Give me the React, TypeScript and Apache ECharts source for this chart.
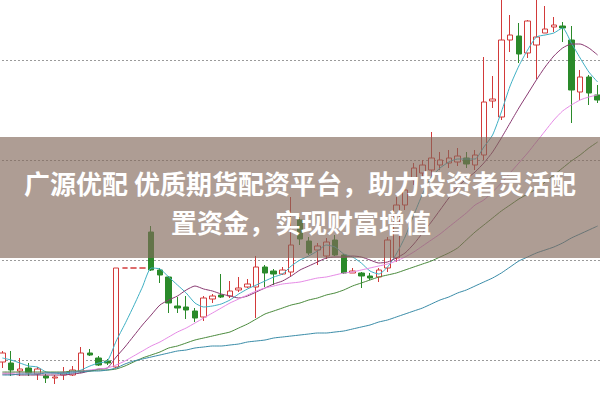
import React, { useEffect, useRef } from "react";
import * as echarts from "echarts";

// Candle values (price units), one entry per trading day
const OPEN = [5.98, 5.97, 5.89, 5.92, 5.86, 5.84, 5.82, 5.85, 5.85, 5.88, 6.07, 6.02, 5.99, 5.93, 6.92, 6.92, 6.92, 7.28, 6.9, 6.83, 6.54, 6.53, 6.49, 6.43, 6.61, 6.65, 6.64, 6.7, 6.73, 6.73, 6.93, 6.89, 6.86, 6.88, 7.4, 7.19, 7.1, 7.04, 7.2, 7.05, 6.87, 6.87, 6.84, 6.83, 6.92, 7.02, 7.55, 7.8, 7.87, 7.9, 7.95, 7.97, 7.98, 8.02, 7.95, 8.05, 8.59, 8.43, 9.2, 9.24, 9.07, 9.15, 9.27, 9.33, 9.34, 9.2, 8.68, 8.83, 8.65];
const CLOSE = [6.07, 5.9, 5.91, 5.87, 5.91, 5.82, 5.83, 5.87, 5.9, 6.07, 6.05, 5.95, 5.97, 6.92, 6.92, 6.92, 6.92, 6.9, 6.85, 6.57, 6.52, 6.5, 6.42, 6.62, 6.64, 6.63, 6.69, 6.72, 6.76, 6.93, 6.87, 6.86, 6.9, 7.15, 7.21, 7.07, 7.14, 7.18, 7.05, 6.87, 6.89, 6.84, 6.82, 6.9, 7.2, 7.55, 7.7, 7.92, 7.95, 8.02, 8.0, 8.02, 8.04, 7.96, 8.05, 8.58, 8.61, 9.2, 9.25, 9.06, 9.39, 9.23, 9.31, 9.35, 9.32, 8.7, 8.83, 8.67, 8.6];
const LOW = [5.92, 5.84, 5.84, 5.84, 5.8, 5.77, 5.76, 5.8, 5.84, 5.87, 6.04, 5.94, 5.95, 5.92, 6.92, 6.92, 6.92, 6.89, 6.77, 6.47, 6.47, 6.41, 6.38, 6.39, 6.57, 6.62, 6.62, 6.68, 6.72, 6.42, 6.73, 6.75, 6.85, 6.84, 7.15, 7.05, 6.95, 7.01, 7.04, 6.86, 6.87, 6.72, 6.8, 6.78, 6.88, 6.98, 7.5, 7.75, 7.82, 7.78, 7.9, 7.92, 7.94, 7.92, 7.9, 8.0, 8.52, 8.4, 9.08, 8.97, 9.02, 8.81, 9.27, 9.28, 9.18, 8.37, 8.6, 8.55, 8.57];
const HIGH = [6.09, 6.09, 6.02, 5.97, 5.93, 5.86, 5.85, 5.93, 5.94, 6.13, 6.11, 6.04, 6.01, 6.92, 6.92, 6.92, 6.92, 7.34, 6.92, 6.84, 6.63, 6.64, 6.52, 6.64, 6.66, 6.86, 6.79, 6.83, 6.81, 7.04, 6.95, 6.91, 6.93, 7.63, 7.43, 7.23, 7.17, 7.22, 7.25, 7.06, 6.92, 6.88, 6.87, 6.92, 7.23, 7.63, 7.75, 7.97, 8.0, 8.28, 8.08, 8.1, 8.12, 8.08, 8.1, 9.03, 8.84, 9.65, 9.45, 9.37, 9.4, 9.65, 9.54, 9.43, 9.38, 9.34, 8.9, 8.85, 8.75];

// Moving averages
const MA5 = [6.02, 6.0, 5.97, 5.94, 5.93, 5.88, 5.87, 5.86, 5.87, 5.9, 5.94, 5.97, 5.99, 6.19, 6.36, 6.54, 6.73, 6.92, 6.91, 6.83, 6.75, 6.67, 6.57, 6.53, 6.54, 6.56, 6.6, 6.66, 6.71, 6.75, 6.79, 6.83, 6.86, 6.94, 7.0, 7.04, 7.09, 7.15, 7.13, 7.06, 7.03, 6.97, 6.89, 6.86, 6.93, 7.06, 7.23, 7.45, 7.66, 7.83, 7.92, 7.98, 8.01, 8.01, 8.01, 8.13, 8.25, 8.48, 8.74, 8.94, 9.1, 9.23, 9.25, 9.27, 9.32, 9.17, 9.02, 8.88, 8.78];
const MA10 = [5.86, 5.86, 5.85, 5.85, 5.85, 5.85, 5.85, 5.85, 5.86, 5.87, 5.89, 5.91, 5.92, 6.03, 6.13, 6.24, 6.35, 6.45, 6.55, 6.6, 6.64, 6.7, 6.74, 6.71, 6.69, 6.66, 6.64, 6.62, 6.64, 6.68, 6.72, 6.76, 6.79, 6.84, 6.9, 6.94, 6.98, 7.02, 7.03, 7.03, 7.04, 7.03, 7.0, 6.97, 6.98, 7.02, 7.07, 7.16, 7.27, 7.38, 7.5, 7.62, 7.73, 7.81, 7.88, 7.97, 8.08, 8.22, 8.37, 8.52, 8.66, 8.8, 8.93, 9.04, 9.12, 9.16, 9.16, 9.12, 9.05];
const MA20 = [5.87, 5.87, 5.87, 5.87, 5.87, 5.87, 5.87, 5.88, 5.88, 5.89, 5.9, 5.91, 5.92, 5.95, 5.99, 6.04, 6.09, 6.14, 6.18, 6.23, 6.28, 6.32, 6.37, 6.42, 6.47, 6.52, 6.57, 6.61, 6.65, 6.69, 6.72, 6.74, 6.76, 6.77, 6.78, 6.8, 6.82, 6.83, 6.85, 6.87, 6.88, 6.9, 6.92, 6.94, 6.96, 6.99, 7.03, 7.08, 7.14, 7.2, 7.26, 7.33, 7.4, 7.47, 7.55, 7.6, 7.68, 7.77, 7.87, 7.97, 8.07, 8.18, 8.29, 8.4, 8.49, 8.55, 8.6, 8.63, 8.65];
const MA30 = [5.88, 5.88, 5.88, 5.88, 5.88, 5.88, 5.88, 5.88, 5.89, 5.89, 5.89, 5.9, 5.9, 5.91, 5.94, 5.98, 6.02, 6.05, 6.08, 6.12, 6.14, 6.17, 6.2, 6.22, 6.24, 6.26, 6.28, 6.32, 6.36, 6.41, 6.46, 6.49, 6.52, 6.55, 6.57, 6.6, 6.62, 6.65, 6.67, 6.7, 6.74, 6.77, 6.8, 6.83, 6.85, 6.87, 6.9, 6.93, 6.96, 6.99, 7.03, 7.07, 7.12, 7.2, 7.28, 7.35, 7.42, 7.49, 7.55, 7.61, 7.66, 7.71, 7.78, 7.85, 7.92, 7.99, 8.05, 8.12, 8.18];
const MA60 = [5.85, 5.85, 5.86, 5.86, 5.86, 5.87, 5.87, 5.87, 5.88, 5.88, 5.89, 5.89, 5.9, 5.92, 5.96, 5.99, 6.01, 6.03, 6.05, 6.07, 6.09, 6.1, 6.12, 6.13, 6.14, 6.14, 6.15, 6.16, 6.18, 6.19, 6.2, 6.22, 6.23, 6.24, 6.25, 6.26, 6.27, 6.27, 6.28, 6.29, 6.31, 6.33, 6.35, 6.38, 6.4, 6.43, 6.46, 6.49, 6.52, 6.56, 6.6, 6.63, 6.67, 6.7, 6.74, 6.78, 6.82, 6.87, 6.93, 6.99, 7.03, 7.07, 7.1, 7.13, 7.17, 7.22, 7.26, 7.3, 7.34];

const Y_MIN = 5;
const Y_MAX = 10;
const Y_STEP = 1;

const TITLE_LINE_1 = "广源优配 优质期货配资平台，助力投资者灵活配";
const TITLE_LINE_2 = "置资金，实现财富增值";

const DAYS = OPEN.map((_, i) => `D${i + 1}`);

// the chart box is larger than the page and shifted, so that the plot fills it
const SHIFT_X = 2;
const SHIFT_Y = 40;

export default function App() {
  const ref = useRef<HTMLDivElement>(null);

  useEffect(() => {
    if (!ref.current) return;
    const chart = echarts.init(ref.current, undefined, { renderer: "svg" });
    const candles = OPEN.map((o, i) => [o, CLOSE[i], LOW[i], HIGH[i]]);
    const ma = (name: string, data: number[], color: string) => ({
      name,
      type: "line",
      data,
      symbol: "none",
      smooth: 0.2,
      z: 3,
      lineStyle: { color, width: 1 },
      silent: true,
    });
    chart.setOption({
      animation: false,
      backgroundColor: "#ffffff",
      grid: { left: 0, right: 0, top: 0, bottom: 0 },
      xAxis: {
        type: "category",
        data: DAYS,
        boundaryGap: true,
        axisLine: { show: false },
        axisTick: { show: false },
        axisLabel: { show: false },
        splitLine: { show: false },
      },
      yAxis: {
        type: "value",
        min: Y_MIN,
        max: Y_MAX,
        interval: Y_STEP,
        axisLine: { show: false },
        axisTick: { show: false },
        axisLabel: { show: false },
        splitLine: {
          show: true,
          lineStyle: { color: "#9a9a9a", width: 1, type: [2, 2] },
        },
      },
      series: [
        {
          type: "candlestick",
          data: candles,
          barWidth: 6,
          z: 2,
          itemStyle: {
            color: "#ffffff",
            color0: "#2a8a2a",
            borderColor: "#d23a3a",
            borderColor0: "#2a8a2a",
            borderWidth: 1,
          },
        },
        ma("MA5", MA5, "#3fb0c4"),
        ma("MA10", MA10, "#8a3a72"),
        ma("MA20", MA20, "#e68ae6"),
        ma("MA30", MA30, "#4a8a3c"),
        ma("MA60", MA60, "#3a8ca8"),
      ],
      graphic: [
        {
          type: "rect",
          z: 100,
          shape: { x: 0, y: 137 + SHIFT_Y, width: 604, height: 121 },
          style: { fill: "rgba(130,105,90,0.65)" },
        },
        {
          type: "text",
          z: 101,
          x: 300 + SHIFT_X,
          y: 182 + SHIFT_Y,
          style: {
            text: TITLE_LINE_1,
            fill: "#ffffff",
            font: 'bold 26px "Noto Sans CJK SC"',
            align: "center",
            verticalAlign: "middle",
          },
        },
        {
          type: "text",
          z: 101,
          x: 301 + SHIFT_X,
          y: 221 + SHIFT_Y,
          style: {
            text: TITLE_LINE_2,
            fill: "#ffffff",
            font: 'bold 26px "Noto Sans CJK SC"',
            align: "center",
            verticalAlign: "middle",
          },
        },
      ],
    });
    return () => chart.dispose();
  }, []);

  return (
    <div
      ref={ref}
      style={{
        position: "fixed",
        left: -SHIFT_X,
        top: -SHIFT_Y,
        width: 604,
        height: 500,
      }}
    />
  );
}
